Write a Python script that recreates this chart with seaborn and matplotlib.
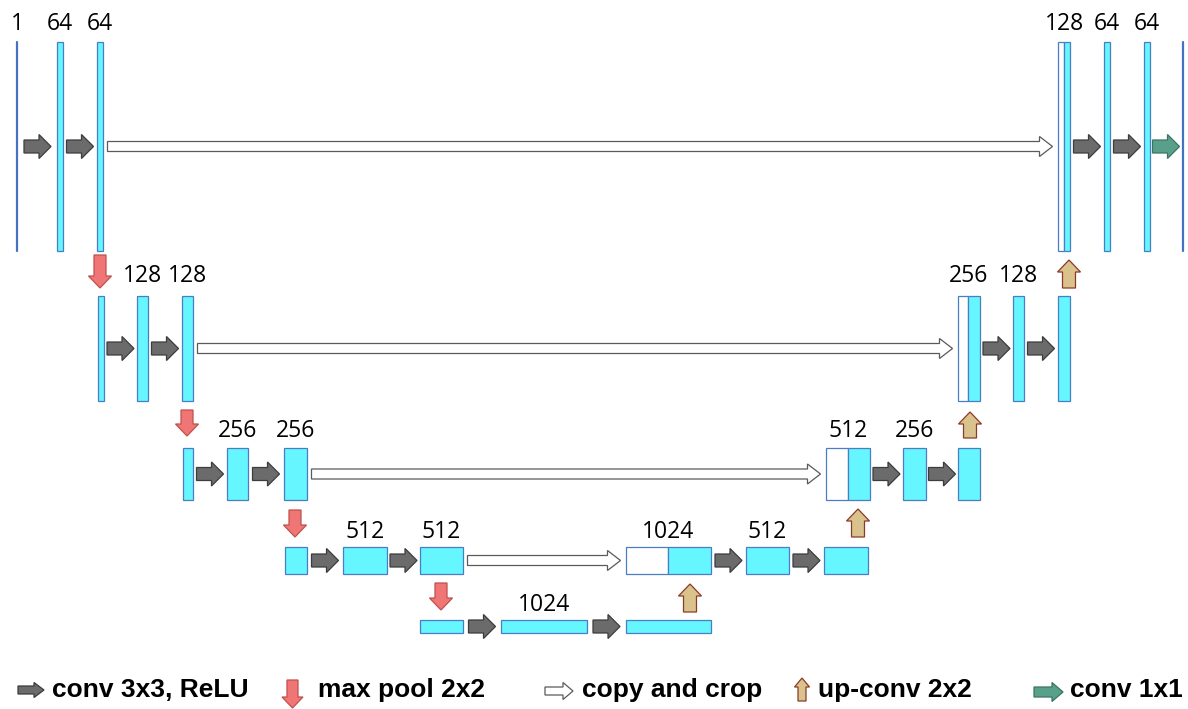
import matplotlib
matplotlib.use("Agg")
import matplotlib.pyplot as plt
import matplotlib.patches as mpatches
import seaborn as sns

# channel labels of the U-Net, top level first
enc_labels = [["1", "64", "64"], [None, "128", "128"], [None, "256", "256"],
              [None, "512", "512"], [None, "1024", None]]
dec_labels = [["128", "64", "64", None], ["256", "128", None],
              ["512", "256", None], ["1024", "512", None]]
legend_labels = ["conv 3x3, ReLU", "max pool 2x2", "copy and crop",
                 "up-conv 2x2", "conv 1x1"]

# layout (pixel space of the picture)
level_top = [42, 296, 448, 547, 620]
level_bot = [251, 401, 500, 574, 633]
label_base = [30, 282, 437, 538, 611]
enc_x = [[(16, 18), (57, 63), (97, 103)],
         [(98, 104), (137, 148), (182, 193)],
         [(183, 193), (227, 248), (284, 307)],
         [(285, 307), (343, 387), (420, 463)],
         [(420, 463), (501, 587), (626, 711)]]
dec_x = [[(1058, 1064, 1070), (1104, 1110), (1144, 1150), (1182, 1184)],
         [(958, 968, 980), (1013, 1024), (1058, 1070)],
         [(826, 848, 870), (903, 926), (958, 980)],
         [(626, 668, 711), (746, 789), (824, 868)]]
pool_x = [100, 187, 295, 441]
pool_y = [(255, 288), (410, 436), (510, 537), (583, 610)]
up_x = [1069, 970, 858, 690]
up_y = [(288, 260), (438, 412), (537, 509), (612, 584)]

CYAN = "#66F6FF"
EDGE = "#4A7EC2"
GRAY, GRAY_E = "#6B6B6B", "#3C3C3C"
RED, RED_E = "#F07676", "#C0504D"
TAN, TAN_E = "#D9C28C", "#8B3A2A"
GREEN, GREEN_E = "#58A08A", "#3A7563"

sns.set_theme(style="white")
plt.rcParams["font.family"] = ["Open Sans", "DejaVu Sans"]
plt.rcParams["text.color"] = "black"

fig = plt.figure(figsize=(11.88, 7.09), dpi=100)
ax = fig.add_axes([0, 0, 1, 1])
ax.set_xlim(0, 1188)
ax.set_ylim(709, 0)
ax.axis("off")


def arrow(x, y, dx, dy, w, hw, hl, fc, ec):
    ax.add_patch(mpatches.FancyArrow(x, y, dx, dy, width=w, head_width=hw,
                                     head_length=hl, length_includes_head=True,
                                     fc=fc, ec=ec, lw=0.9, zorder=3))


def box(x0, x1, y0, y1, fc=CYAN):
    ax.add_patch(mpatches.Rectangle((x0, y0), x1 - x0, y1 - y0, fc=fc,
                                    ec=EDGE, lw=0.9, zorder=2))


def label(x, lev, txt):
    if txt is not None:
        ax.text(x, label_base[lev], txt, ha="center", va="baseline",
                fontsize=16.5, color="black")


def conv_arrow(xa, xb, yc, fc=GRAY, ec=GRAY_E):
    mid = (xa + xb) / 2
    arrow(mid - 13.5, yc, 27, 0, 13, 24, 12, fc, ec)


for lev, boxes in enumerate(enc_x):
    y0, y1 = level_top[lev], level_bot[lev]
    yc = (y0 + y1) / 2
    for i, (x0, x1) in enumerate(boxes):
        if lev == 0 and i == 0:
            ax.plot([17, 17], [y0, y1], color="#4472C4", lw=1.6, zorder=2)
        else:
            box(x0, x1, y0, y1)
        label((x0 + x1) / 2, lev, enc_labels[lev][i])
        if i > 0:
            conv_arrow(boxes[i - 1][1], x0, yc)

for lev, boxes in enumerate(dec_x):
    y0, y1 = level_top[lev], level_bot[lev]
    yc = (y0 + y1) / 2
    xa, xm, xb = boxes[0]
    box(xa, xm, y0, y1, fc="white")
    box(xm, xb, y0, y1)
    label((xa + xb) / 2, lev, dec_labels[lev][0])
    # copy and crop
    xs = enc_x[lev][-1][1] + 4.5
    arrow(xs, yc, xa - 5.5 - xs, 0, 10, 20, 13, "white", "#5A5A5A")
    for i in range(1, len(boxes)):
        x0, x1 = boxes[i]
        if lev == 0 and i == len(boxes) - 1:
            ax.plot([1183, 1183], [y0, y1], color="#4472C4", lw=1.6, zorder=2)
            conv_arrow(boxes[i - 1][1], x0, yc, GREEN, GREEN_E)
        else:
            box(x0, x1, y0, y1)
            conv_arrow(boxes[i - 1][-1], x0, yc)
        label((x0 + x1) / 2, lev, dec_labels[lev][i])

for x, (ya, yb) in zip(pool_x, pool_y):
    arrow(x, ya, 0, yb - ya, 12, 23, 12, RED, RED_E)
for x, (ya, yb) in zip(up_x, up_y):
    arrow(x, ya, 0, yb - ya, 13, 23, 12, TAN, TAN_E)

# legend
arrow(18, 690, 26, 0, 8, 15, 10, GRAY, GRAY_E)
arrow(292.5, 680, 0, 28, 11, 21, 11, RED, RED_E)
arrow(545, 691, 28, 0, 8, 17, 10, "white", "#5A5A5A")
arrow(802, 701, 0, -23, 8, 15, 9, TAN, TAN_E)
arrow(1034, 692, 29, 0, 10, 19, 11, GREEN, GREEN_E)
for x, txt in zip([52, 318, 582, 818, 1070], legend_labels):
    ax.text(x, 697, txt, ha="left", va="baseline", fontsize=19,
            fontweight="bold", color="black",
            family=["Liberation Sans", "DejaVu Sans"])

fig.savefig("out.png", dpi=100)
